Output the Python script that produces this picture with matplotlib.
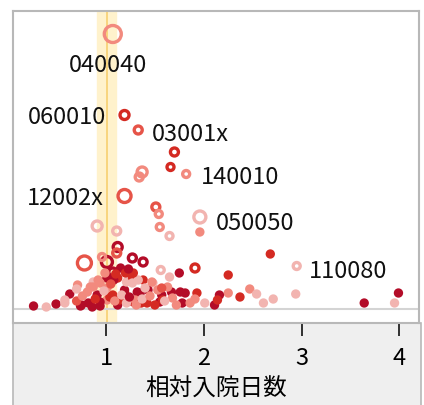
import matplotlib.pyplot as plt
from matplotlib.patches import Rectangle

plt.rcParams['font.family'] = ['Noto Sans CJK JP', 'DejaVu Sans']

# relative length of stay (x), count-like measure (y), marker diameter (px), shade index
rel_days = [
    1.07, 1.19, 1.33, 1.70, 1.66, 1.82, 1.37, 1.34, 1.19, 1.51,
    1.54, 1.96, 1.96, 0.91, 1.11, 1.55, 1.65, 0.78, 1.12, 1.11,
    1.01, 1.07, 1.27, 1.38, 1.91, 1.75, 1.56, 2.68, 2.95, 2.25,
    3.64, 3.99, 3.95, 2.94, 2.71, 2.47, 2.54, 2.37, 2.25, 2.16,
    2.61, 1.93, 1.91, 2.01, 2.11, 2.14, 1.76, 1.67, 1.78, 1.68,
    1.63, 1.65, 1.48, 1.57, 1.43, 1.38, 0.26, 0.39, 0.49, 0.58,
    0.63, 0.71, 0.74, 0.82, 0.91, 0.94, 1.01, 1.07, 1.12, 1.19,
    1.28, 1.35, 1.42, 1.55, 0.81, 0.87, 0.92, 1.01, 1.01, 1.04,
    1.12, 1.19, 1.21, 1.27, 1.33, 1.32, 1.40, 1.14, 0.94, 0.75,
    0.58, 0.96, 0.94, 1.08, 1.15, 1.20, 1.28, 0.87, 1.27, 1.30,
    1.47, 1.53, 1.58, 1.81, 1.21, 1.36, 1.57, 1.86, 0.70, 0.86,
    0.70, 0.76, 0.84, 0.89, 0.98, 1.05, 1.09, 1.16, 1.24, 1.31,
    1.37, 1.45, 1.50, 1.60, 1.72, 1.10, 0.99, 1.23,
]
cases = [
    27.5, 19.4, 17.9, 15.7, 14.2, 13.5, 13.7, 13.2, 11.3, 10.2,
    9.5, 9.2, 7.7, 8.3, 7.8, 8.2, 7.3, 4.6, 6.2, 5.6,
    4.7, 3.7, 5.1, 4.7, 4.1, 3.6, 3.9, 5.5, 4.3, 3.4,
    0.6, 1.6, 0.6, 1.5, 1.0, 2.0, 1.5, 1.2, 1.6, 1.4,
    0.6, 1.6, 1.0, 0.6, 0.4, 0.9, 1.7, 1.7, 0.6, 1.1,
    2.2, 3.2, 2.6, 1.4, 1.9, 2.9, 0.3, 0.2, 0.5, 0.6,
    1.5, 2.4, 0.3, 0.6, 1.4, 0.3, 0.9, 1.4, 0.4, 1.7,
    0.7, 1.6, 0.6, 0.7, 1.7, 2.7, 2.9, 3.1, 2.1, 1.2,
    3.1, 1.9, 2.7, 3.2, 2.9, 1.7, 2.1, 0.9, 0.7, 0.4,
    0.9, 5.2, 2.6, 2.9, 4.1, 3.6, 3.6, 2.2, 2.6, 0.9,
    2.7, 1.9, 0.9, 1.6, 0.6, 0.6, 2.1, 0.6, 0.8, 0.2,
    2.0, 1.3, 2.2, 1.0, 1.8, 2.5, 0.8, 1.4, 1.2, 0.4,
    1.0, 1.3, 0.4, 0.8, 0.4, 3.5, 3.6, 4.0,
]
sizes = [
    17, 9, 8, 8, 7, 7, 10, 8, 13, 8,
    7, 12, 6, 10, 8, 7, 7, 14, 9, 8,
    11, 8, 8, 8, 8, 6, 7, 6, 7, 6,
    6, 6, 6, 6, 6, 6, 6, 6, 6, 6,
    6, 6, 6, 6, 6, 6, 6, 6, 6, 6,
    6, 6, 6, 6, 6, 6, 6, 6, 6, 6,
    6, 6, 6, 6, 6, 6, 6, 6, 6, 6,
    6, 6, 6, 6, 6, 6, 6, 6, 6, 6,
    6, 6, 6, 6, 6, 6, 6, 6, 6, 6,
    6, 7, 6, 6, 6, 6, 6, 6, 6, 6,
    6, 6, 6, 6, 6, 6, 6, 6, 6, 6,
    6, 6, 6, 6, 6, 6, 6, 6, 6, 6,
    6, 6, 6, 6, 6, 6, 6, 6,
]
shade = [
    1, 3, 2, 3, 3, 1, 1, 1, 2, 2,
    1, 0, 1, 0, 0, 1, 0, 2, 4, 2,
    4, 4, 4, 4, 3, 4, 0, 3, 0, 3,
    4, 4, 0, 0, 0, 1, 0, 3, 1, 4,
    0, 3, 1, 0, 4, 3, 4, 4, 4, 1,
    1, 0, 0, 4, 4, 3, 4, 0, 4, 0,
    4, 1, 4, 4, 4, 4, 1, 3, 4, 3,
    3, 4, 3, 4, 1, 0, 1, 4, 1, 3,
    3, 4, 0, 3, 0, 4, 0, 3, 4, 4,
    0, 1, 1, 4, 4, 3, 3, 1, 0, 1,
    1, 1, 3, 4, 0, 3, 2, 1, 2, 4,
    0, 1, 1, 3, 0, 2, 1, 0, 4, 1,
    0, 1, 3, 0, 1, 3, 1, 4,
]
palette = ['#f2b4b0', '#f28a7e', '#e65448', '#d42a22', '#b30c28']

label_text = ['040040', '060010', '03001x', '140010', '12002x', '050050', '110080']
label_x = [1.02, 0.60, 1.86, 2.37, 0.58, 2.52, 3.48]
label_y = [24.3, 19.1, 17.4, 13.1, 11.0, 8.5, 3.7]

W, H = 424, 405
fig = plt.figure(figsize=(W / 100, H / 100), dpi=100)

# grey strip under the plot area
fig.patches.append(Rectangle((13 / W, -0.01), 408 / W, (405 - 323) / H + 0.01,
                             transform=fig.transFigure, facecolor='#efefef',
                             edgecolor='#b8b8b8', linewidth=1.2, zorder=-10))

ax = fig.add_axes([13 / W, 1 - 323 / H, 406 / W, (323 - 11) / H])
ax.set_xlim(0.05, 4.20)
ax.set_ylim(-1.4, 29.8)

ax.axvspan(0.91, 1.10, color='#fff2cc', zorder=0)
ax.axvline(1.01, color='#f7d070', linewidth=1.2, zorder=0.5)
ax.axhline(0, color='#d4d4d4', linewidth=1.5, zorder=0.5)

colors = [palette[i] for i in shade]
faces = [c if d <= 6 else 'none' for c, d in zip(colors, sizes)]
ax.scatter(rel_days, cases, s=[(d * 0.72) ** 2 for d in sizes],
           facecolors=faces, edgecolors=colors, linewidths=2.4, zorder=2)

for t, lx, ly in zip(label_text, label_x, label_y):
    ax.text(lx, ly, t, ha='center', va='center', fontsize=17, color='#111111', zorder=3)

ax.set_yticks([])
ax.set_xticks([1, 2, 3, 4])
ax.tick_params(axis='x', direction='out', length=9, width=1.3, color='#222222',
               labelsize=17, pad=8)
ax.set_xlabel('相対入院日数', fontsize=17, labelpad=6)
for sp in ax.spines.values():
    sp.set_color('#b8b8b8')
    sp.set_linewidth(1.5)

plt.savefig('out.png', dpi=100)
plt.close()
